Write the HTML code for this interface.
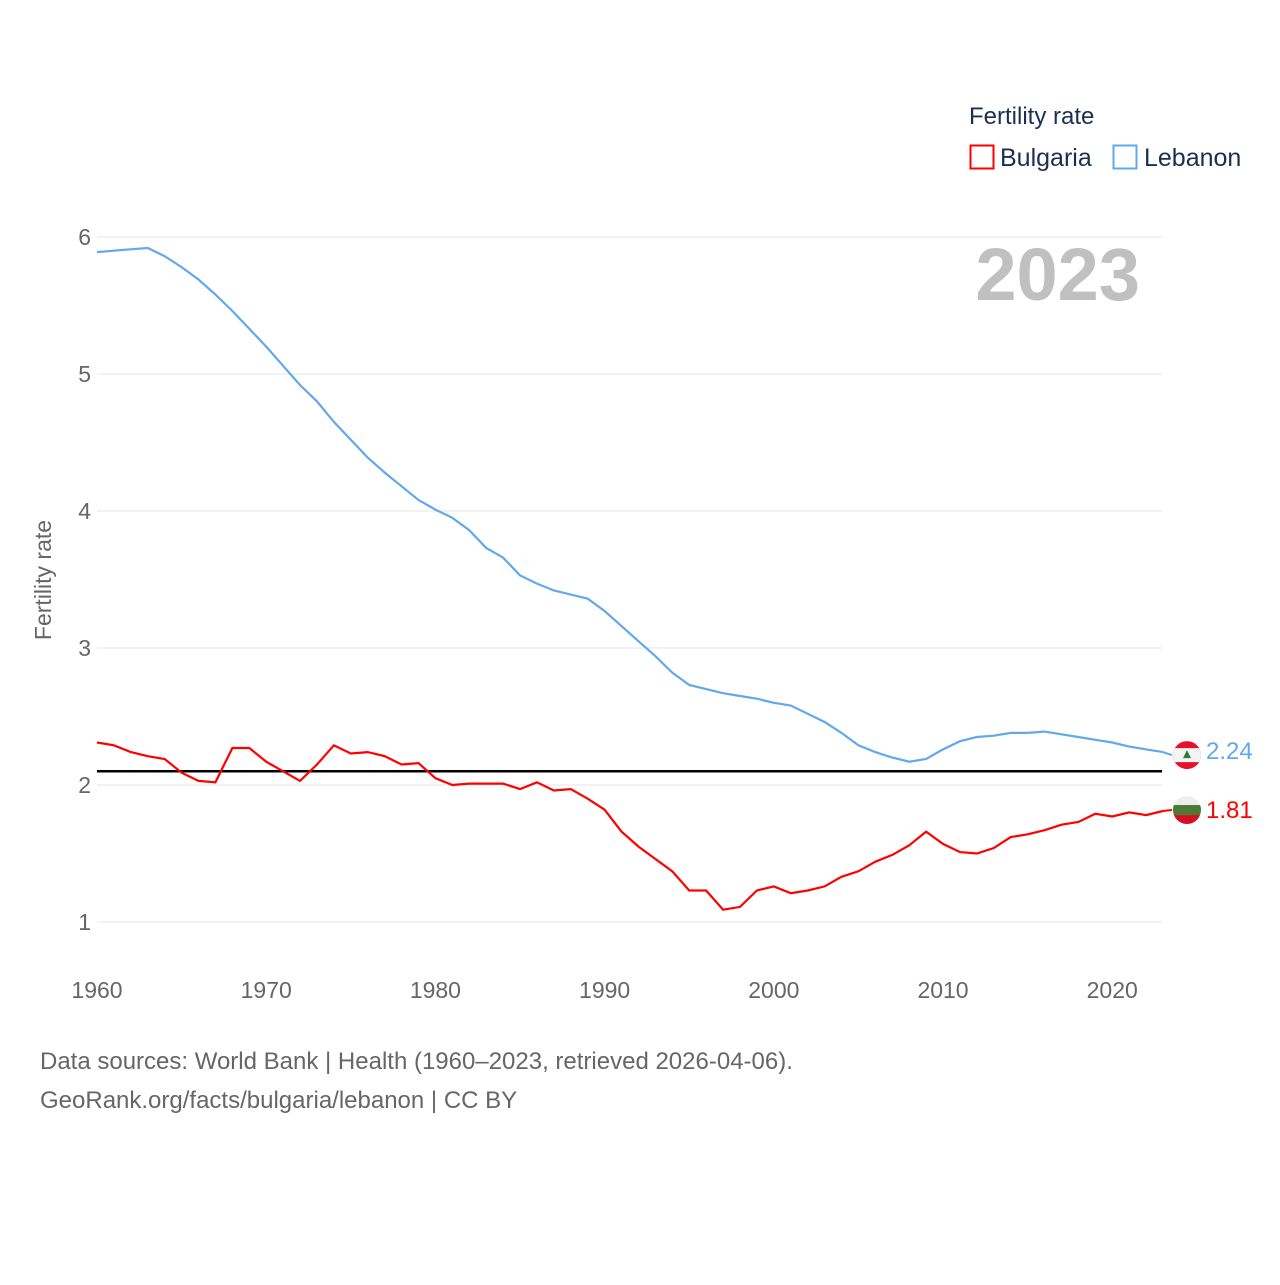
<!DOCTYPE html>
<html><head><meta charset="utf-8"><style>
body{margin:0;background:#fff;}
svg text{font-family:"Liberation Sans",sans-serif;}
</style></head><body>
<svg id="chart" width="1280" height="1280" viewBox="0 0 1280 1280" xmlns="http://www.w3.org/2000/svg">
<rect width="1280" height="1280" fill="#fff"/>
<g id="grid"></g>
<g id="yticks"></g>
<g id="xticks"></g>
<text transform="translate(51,580) rotate(-90)" text-anchor="middle" font-size="23" fill="#666">Fertility rate</text>
<text x="1140" y="300" text-anchor="end" font-size="74" font-weight="bold" fill="#c0c0c0">2023</text>
<g>
<text x="969" y="124" font-size="24" fill="#1b3050">Fertility rate</text>
<rect x="970.5" y="145.5" width="23" height="23" fill="none" stroke="#ff0000" stroke-width="2"/>
<text x="1000" y="166" font-size="25" fill="#1b3050">Bulgaria</text>
<rect x="1113.5" y="145.5" width="23" height="23" fill="none" stroke="#62a8ea" stroke-width="2"/>
<text x="1144" y="166" font-size="25" fill="#1b3050">Lebanon</text>
</g>
<line id="refline" x1="97" x2="1162" stroke="#000" stroke-width="2.5"/>
<path id="lebLine" fill="none" stroke="#62a8ea" stroke-width="2.2"/>
<path id="bulLine" fill="none" stroke="#ff0000" stroke-width="2.2"/>
<g id="ends"></g>
<text x="40" y="1069" font-size="24" fill="#666">Data sources: World Bank | Health (1960–2023, retrieved 2026-04-06).</text>
<text x="40" y="1108" font-size="24" fill="#666">GeoRank.org/facts/bulgaria/lebanon | CC BY</text>
</svg>
<script>
const years=[];for(let y=1960;y<=2023;y++)years.push(y);
const lebanon=[5.89,5.90,5.91,5.92,5.86,5.78,5.69,5.58,5.46,5.33,5.20,5.06,4.92,4.80,4.65,4.52,4.39,4.28,4.18,4.08,4.01,3.95,3.86,3.73,3.66,3.53,3.47,3.42,3.39,3.36,3.27,3.16,3.05,2.94,2.82,2.73,2.70,2.67,2.65,2.63,2.60,2.58,2.52,2.46,2.38,2.29,2.24,2.20,2.17,2.19,2.26,2.32,2.35,2.36,2.38,2.38,2.39,2.37,2.35,2.33,2.31,2.28,2.26,2.24];
const bulgaria=[2.31,2.29,2.24,2.21,2.19,2.09,2.03,2.02,2.27,2.27,2.17,2.10,2.03,2.15,2.29,2.23,2.24,2.21,2.15,2.16,2.05,2.00,2.01,2.01,2.01,1.97,2.02,1.96,1.97,1.90,1.82,1.66,1.55,1.46,1.37,1.23,1.23,1.09,1.11,1.23,1.26,1.21,1.23,1.26,1.33,1.37,1.44,1.49,1.56,1.66,1.57,1.51,1.50,1.54,1.62,1.64,1.67,1.71,1.73,1.79,1.77,1.80,1.78,1.81];
const yTicks=[1,2,3,4,5,6];
const xTicks=[1960,1970,1980,1990,2000,2010,2020];
const replacement=2.1;
const ns="http://www.w3.org/2000/svg";
const X=y=>97+(y-1960)*(1163-97)/63;
const Y=v=>922-(v-1)*137;
function mk(tag,attrs,parent,txt){const e=document.createElementNS(ns,tag);for(const k in attrs)e.setAttribute(k,attrs[k]);if(txt!==undefined)e.textContent=txt;parent.appendChild(e);return e;}
const grid=document.getElementById('grid'),yt=document.getElementById('yticks'),xt=document.getElementById('xticks');
yTicks.forEach(t=>{
 const l=mk('line',{x1:97,x2:1162,y1:Y(t),y2:Y(t),stroke:'#e6e6e6','stroke-width':1},grid);
 
 
 const tx=mk('text',{x:91,y:Y(t)+8,'text-anchor':'end','font-size':23,fill:'#666'},yt,String(t));
 
 
});
xTicks.forEach(t=>{
 const tx=mk('text',{x:X(t),y:998,'text-anchor':'middle','font-size':23,fill:'#666'},xt,String(t));
 
 
});
const rl=document.getElementById('refline');rl.setAttribute('y1',Y(replacement));rl.setAttribute('y2',Y(replacement));
const path=a=>a.map((v,i)=>(i?'L':'M')+X(years[i]).toFixed(1)+','+Y(v).toFixed(1)).join('');
document.getElementById('lebLine').setAttribute('d',path(lebanon));
document.getElementById('bulLine').setAttribute('d',path(bulgaria));
const ends=document.getElementById('ends');
const lx=X(2023);
// Lebanon end
let ly=Y(lebanon[lebanon.length-1])+3;
let g=mk('g',{},ends);


mk('line',{x1:lx,x2:1172,y1:Y(lebanon[lebanon.length-1]),y2:ly,stroke:'#62a8ea','stroke-width':2},g);
mk('clipPath',{id:'c1'},g).appendChild(Object.assign(document.createElementNS(ns,'circle'),{}));
const c1=document.getElementById('c1').firstChild;c1.setAttribute('cx',1187);c1.setAttribute('cy',ly);c1.setAttribute('r',14);
const fg=mk('g',{'clip-path':'url(#c1)'},g);
mk('rect',{x:1173,y:ly-14,width:28,height:28,fill:'#e8112d'},fg);
mk('rect',{x:1173,y:ly-7,width:28,height:14,fill:'#f4f4f4'},fg);
mk('path',{d:`M1187,${ly-5} L1191,${ly+3} L1183,${ly+3}Z`,fill:'#2f7a3a'},fg);
let t1=mk('text',{x:1206,y:ly+4,'font-size':24,fill:'#62a8ea'},ends,lebanon[lebanon.length-1].toFixed(2));


// Bulgaria end
let by=Y(bulgaria[bulgaria.length-1])-1;
let g2=mk('g',{},ends);


mk('line',{x1:lx,x2:1172,y1:Y(bulgaria[bulgaria.length-1]),y2:by,stroke:'#ff0000','stroke-width':2},g2);
const cp=mk('clipPath',{id:'c2'},g2);mk('circle',{cx:1187,cy:by,r:14},cp);
const fg2=mk('g',{'clip-path':'url(#c2)'},g2);
mk('rect',{x:1173,y:by-14,width:28,height:28,fill:'#eeeeee'},fg2);
mk('rect',{x:1173,y:by-5,width:28,height:10,fill:'#4e7a35'},fg2);
mk('rect',{x:1173,y:by+5,width:28,height:10,fill:'#d40f24'},fg2);
let t2=mk('text',{x:1206,y:by+8,'font-size':24,fill:'#ff0000'},ends,bulgaria[bulgaria.length-1].toFixed(2));


</script>
</body></html>
